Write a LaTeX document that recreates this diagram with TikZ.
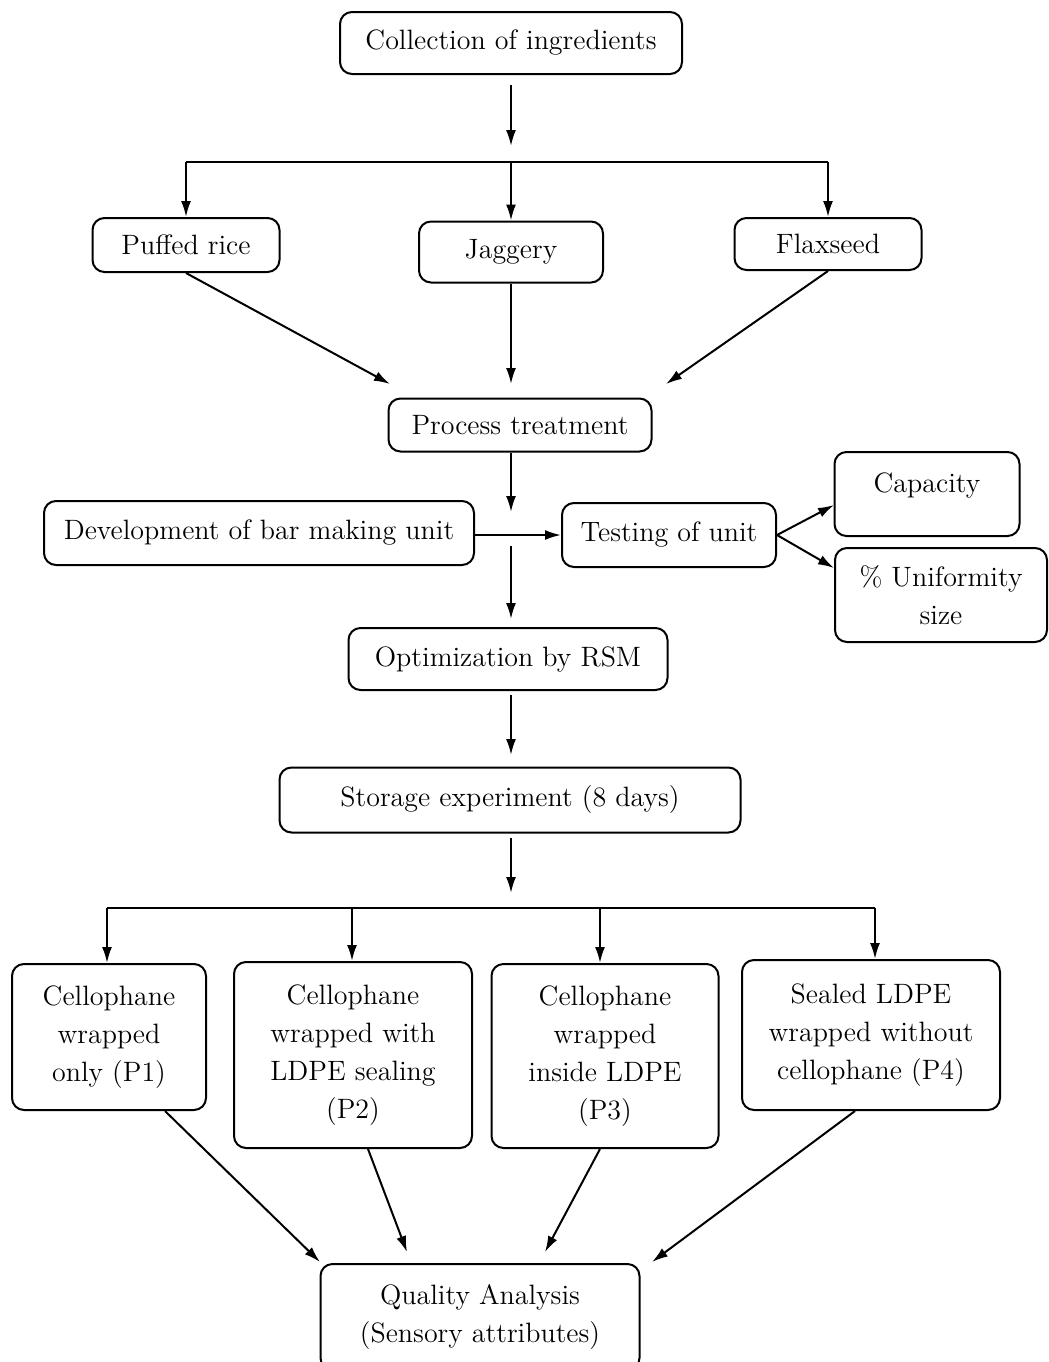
\documentclass[tikz,border=0pt]{standalone}
\usepackage{amsmath}
\usepackage{amssymb}
\usetikzlibrary{shapes,arrows.meta}

\begin{document}
\begin{tikzpicture}[x=0.5pt, y=-0.5pt, line width=1pt, >={Latex[length=8pt,width=5pt]},
                    font=\fontsize{14}{19}\selectfont,
                    main/.style = {draw, rounded corners=6pt, align=center, inner sep=0pt}]
                  \useasboundingbox (0,0) rectangle (1049,1362);
                  % boxes
                  \node[main, minimum width=171pt, minimum height=31pt] (1) at (511,43) {Collection of ingredients};
                  \node[main, minimum width=93.5pt, minimum height=27pt] (2) at (186,245) {Puffed rice};
                  \node[main, minimum width=92pt, minimum height=30.5pt] (3) at (511,252) {Jaggery};
                  \node[main, minimum width=93.5pt, minimum height=26pt] (4) at (828,244) {Flaxseed};
                  \node[main, minimum width=131.5pt, minimum height=26.5pt] (5) at (520,425) {Process treatment};
                  \node[main, minimum width=215pt, minimum height=32pt] (6) at (259,533) {Development of bar making unit};
                  \node[main, minimum width=107pt, minimum height=32pt] (7) at (669,535) {Testing of unit};
                  \node[main, minimum width=92.5pt, minimum height=42pt, text depth=11pt] (8) at (927,494) {Capacity};
                  \node[main, minimum width=106pt, minimum height=47pt] (9) at (941,595) {\% Uniformity\\size};
                  \node[main, minimum width=159.5pt, minimum height=31pt] (10) at (508,659) {Optimization by RSM};
                  \node[main, minimum width=230.5pt, minimum height=32.5pt] (11) at (510,800) {Storage experiment (8 days)};
                  \node[main, minimum width=97pt, minimum height=73pt] (12) at (109,1037) {Cellophane\\wrapped\\only (P1)};
                  \node[main, minimum width=119pt, minimum height=93pt] (13) at (353,1055) {Cellophane\\wrapped with\\LDPE sealing\\(P2)};
                  \node[main, minimum width=113.5pt, minimum height=92pt] (14) at (605,1056) {Cellophane\\wrapped\\inside LDPE\\(P3)};
                  \node[main, minimum width=129pt, minimum height=75pt] (15) at (871,1035) {Sealed LDPE\\wrapped without\\cellophane (P4)};
                  \node[main, minimum width=159.5pt, minimum height=53pt] (16) at (480,1317) {Quality Analysis\\(Sensory attributes)};
                  % free ends
                  \coordinate (t1) at (511,146);
                  \coordinate (b1) at (186,162);
                  \coordinate (b2) at (511,162);
                  \coordinate (b3) at (828,162);
                  \coordinate (p1) at (390,384);
                  \coordinate (p2) at (511,384);
                  \coordinate (p3) at (666,384);
                  \coordinate (d1) at (511,512);
                  \coordinate (d2) at (511,546);
                  \coordinate (d3) at (511,619);
                  \coordinate (c1) at (834,505);
                  \coordinate (c2) at (834,568);
                  \coordinate (o1) at (511,755);
                  \coordinate (s1) at (511,893);
                  \coordinate (q1) at (107,908);
                  \coordinate (q2) at (352,908);
                  \coordinate (q3) at (600,908);
                  \coordinate (q4) at (875,908);
                  \coordinate (e1) at (320,1262);
                  \coordinate (e2) at (407,1252);
                  \coordinate (e3) at (545,1252);
                  \coordinate (e4) at (652,1262);
                  % connectors
                  \draw[->, shorten <=5pt] (1) -- (t1);
                  \draw (b1) -- (b3);
                  \draw[->] (b1) -- (2);
                  \draw[->] (b2) -- (3.north);
                  \draw[->] (b3) -- (4);
                  \draw[->] (2.south) -- (p1);
                  \draw[->] (3.south) -- (p2);
                  \draw[->] (4.south) -- (p3);
                  \draw[->] (5.south -| d1) -- (d1);
                  \draw[->] (6.east |- 7) -- (7.west);
                  \draw[->] (7.east) -- (c1);
                  \draw[->] (7.east) -- (c2);
                  \draw[->] (d2) -- (d3);
                  \draw[->, shorten <=2pt] (10.south -| o1) -- (o1);
                  \draw[->, shorten <=2pt] (11.south -| s1) -- (s1);
                  \draw (q1) -- (q4);
                  \draw[->] (q1) -- (q1 |- 12.north);
                  \draw[->] (q2) -- (q2 |- 13.north);
                  \draw[->] (q3) -- (q3 |- 14.north);
                  \draw[->] (q4) -- (q4 |- 15.north);
                  \draw[->] ([xshift=28pt]12.south) -- (e1);
                  \draw[->] ([xshift=7.5pt]13.south) -- (e2);
                  \draw[->] ([xshift=-2.5pt]14.south) -- (e3);
                  \draw[->] ([xshift=-8pt]15.south) -- (e4);
              \end{tikzpicture}
\end{document}
